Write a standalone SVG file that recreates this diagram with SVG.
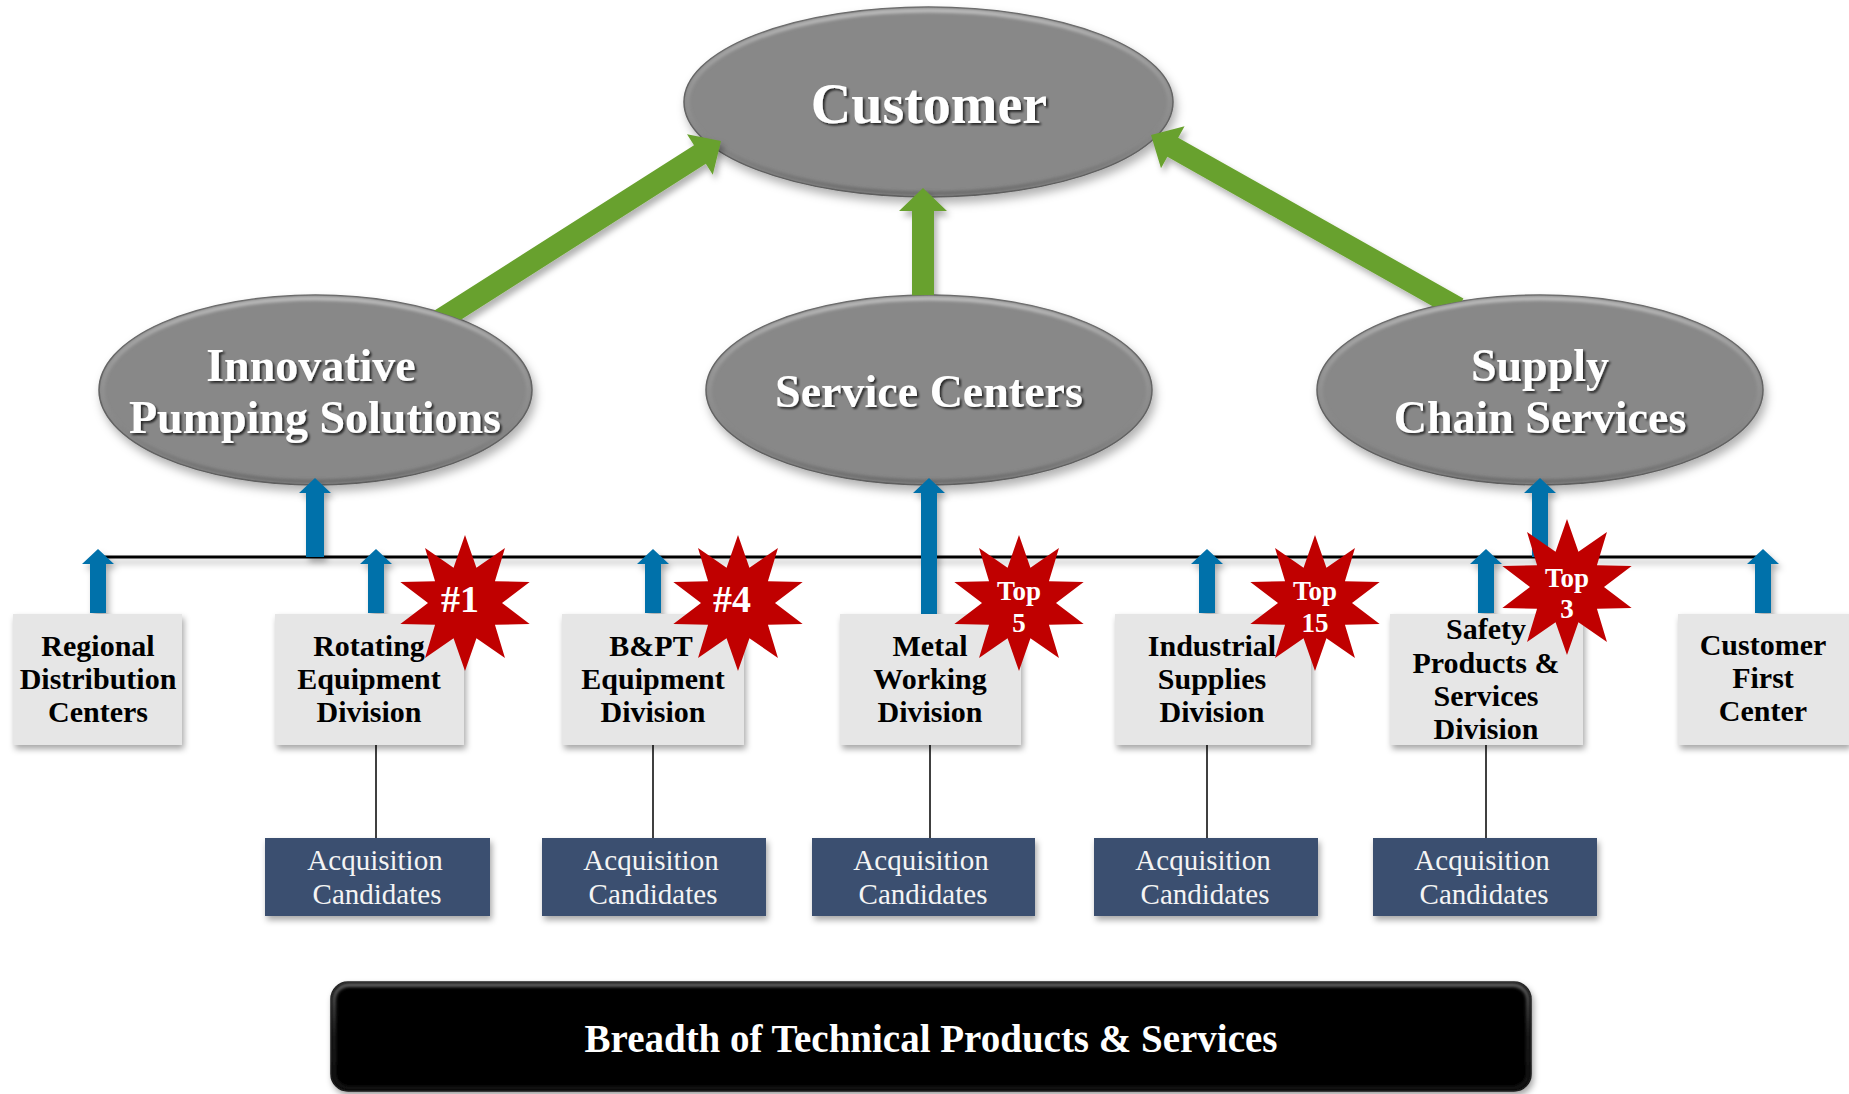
<svg xmlns="http://www.w3.org/2000/svg" xmlns:xlink="http://www.w3.org/1999/xlink" width="1849" height="1094" viewBox="0 0 1849 1094">
<style>
.ell{fill:#888888;stroke:#5e5e5e;stroke-width:1.5}
.bev{fill:none;stroke:url(#bevg);stroke-width:4}
.et{font-family:"Liberation Serif","Times New Roman",serif;font-weight:bold;fill:#ffffff;text-anchor:middle}
.box{fill:#e6e6e6}
.bt{font-family:"Liberation Serif","Times New Roman",serif;font-weight:bold;font-size:30px;fill:#000;text-anchor:middle}
.acq{fill:#3a506f}
.at{font-family:"Liberation Serif","Times New Roman",serif;font-size:29px;fill:#f4f4f4;text-anchor:middle}
.green{fill:#68a12d}
.blue{fill:#0071aa}
.ln{fill:none;stroke:#000;stroke-width:1.5}
.star{fill:#c00000}
.st{font-family:"Liberation Serif","Times New Roman",serif;font-weight:bold;fill:#fff;text-anchor:middle}
</style>
<defs>
<filter id="sh" x="-10%" y="-10%" width="125%" height="140%"><feDropShadow dx="2" dy="4" stdDeviation="3" flood-color="#000" flood-opacity="0.35"/></filter>
<filter id="esh" x="-10%" y="-10%" width="125%" height="135%"><feDropShadow dx="3" dy="6" stdDeviation="5" flood-color="#000" flood-opacity="0.3"/></filter>
<filter id="ash" filterUnits="userSpaceOnUse" x="0" y="0" width="1849" height="1094"><feDropShadow dx="3" dy="5" stdDeviation="3" flood-color="#000" flood-opacity="0.3"/></filter>
<filter id="ts" x="-5%" y="-20%" width="115%" height="150%"><feDropShadow dx="2" dy="2" stdDeviation="1.2" flood-color="#000" flood-opacity="0.7"/></filter>
<filter id="blur"><feGaussianBlur stdDeviation="1.5"/></filter>
<linearGradient id="bevg" x1="0" y1="0" x2="0" y2="1">
<stop offset="0" stop-color="#c4c4c4" stop-opacity="0.9"/>
<stop offset="0.5" stop-color="#a0a0a0" stop-opacity="0.4"/>
<stop offset="1" stop-color="#5a5a5a" stop-opacity="0.6"/>
</linearGradient>
<linearGradient id="barbev" x1="0" y1="0" x2="0" y2="1">
<stop offset="0" stop-color="#6a6a6a" stop-opacity="0.9"/>
<stop offset="0.5" stop-color="#3a3a3a" stop-opacity="0.5"/>
<stop offset="1" stop-color="#202020" stop-opacity="0.6"/>
</linearGradient>
<clipPath id="outside">
<path clip-rule="evenodd" d="M0 0H1849V1094H0Z M99 390a216.5 95 0 1 0 433 0a216.5 95 0 1 0 -433 0Z M706 390a223 95 0 1 0 446 0a223 95 0 1 0 -446 0Z M1317 390a223 95 0 1 0 446 0a223 95 0 1 0 -446 0Z"/>
</clipPath>
<polygon id="starp" points="0,-68 11.43,-35.19 39.97,-55.01 29.93,-21.75 64.67,-21.01 37,0 64.67,21.01 29.93,21.75 39.97,55.01 11.43,35.19 0,68 -11.43,35.19 -39.97,55.01 -29.93,21.75 -64.67,21.01 -37,0 -64.67,-21.01 -29.93,-21.75 -39.97,-55.01 -11.43,-35.19"/>
</defs>
<rect x="0" y="0" width="1849" height="1094" fill="#ffffff"/>

<!-- Ellipse nodes -->
<g id="customer">
<ellipse class="ell" cx="928.5" cy="102" rx="244.5" ry="95" filter="url(#esh)"/>
<ellipse class="bev" cx="928.5" cy="102" rx="241" ry="91.5" filter="url(#blur)"/>
<text class="et" x="929" y="123" font-size="56" filter="url(#ts)">Customer</text>
</g>
<g id="innovative-pumping">
<ellipse class="ell" cx="315.5" cy="390" rx="216.5" ry="95" filter="url(#esh)"/>
<ellipse class="bev" cx="315.5" cy="390" rx="213" ry="91.5" filter="url(#blur)"/>
<text class="et" x="311" y="381" font-size="46" filter="url(#ts)">Innovative</text>
<text class="et" x="315" y="433" font-size="46" filter="url(#ts)">Pumping Solutions</text>
</g>
<g id="service-centers">
<ellipse class="ell" cx="929" cy="390" rx="223" ry="95" filter="url(#esh)"/>
<ellipse class="bev" cx="929" cy="390" rx="219.5" ry="91.5" filter="url(#blur)"/>
<text class="et" x="929" y="407" font-size="46" filter="url(#ts)">Service Centers</text>
</g>
<g id="supply-chain">
<ellipse class="ell" cx="1540" cy="390" rx="223" ry="95" filter="url(#esh)"/>
<ellipse class="bev" cx="1540" cy="390" rx="219.5" ry="91.5" filter="url(#blur)"/>
<text class="et" x="1540" y="381" font-size="46" filter="url(#ts)">Supply</text>
<text class="et" x="1540" y="433" font-size="46" filter="url(#ts)">Chain Services</text>
</g>

<!-- Connectors -->
<g id="connectors">
<g clip-path="url(#outside)">
<g filter="url(#ash)">
<polygon class="green" points="434.09,310.72 694.01,145.15 687.03,134.19 721,141 712.81,174.67 705.83,163.71 445.91,329.28"/>
<polygon class="green" points="912,310 912,211 899,211 923,188 947,211 934,211 934,310"/>
<polygon class="green" points="1463.40,298.42 1178.18,137.69 1184.56,126.36 1151,135 1161.00,168.18 1167.38,156.85 1452.60,317.58"/>
</g>
</g>
<rect x="99" y="555.5" width="1664" height="3" fill="#000" filter="url(#ash)"/>
<g filter="url(#ash)">
<polygon class="blue" points="306,557 306,493 299,493 315,478 331,493 324,493 324,557"/>
<polygon class="blue" points="921,614 921,493 913,493 929,478 945,493 937,493 937,614"/>
<polygon class="blue" points="1532,557 1532,493 1524,493 1540,478 1556,493 1548,493 1548,557"/>
<polygon class="blue" points="90,613 90,564 82,564 98,549 114,564 106,564 106,613"/>
<polygon class="blue" points="368,613 368,564 360,564 376,549 392,564 384,564 384,613"/>
<polygon class="blue" points="645,613 645,564 637,564 653,549 669,564 661,564 661,613"/>
<polygon class="blue" points="1199,613 1199,564 1191,564 1207,549 1223,564 1215,564 1215,613"/>
<polygon class="blue" points="1478,613 1478,564 1470,564 1486,549 1502,564 1494,564 1494,613"/>
<polygon class="blue" points="1755,613 1755,564 1747,564 1763,549 1779,564 1771,564 1771,613"/>
</g>
<line class="ln" x1="376" y1="744" x2="376" y2="838"/>
<line class="ln" x1="653" y1="744" x2="653" y2="838"/>
<line class="ln" x1="930" y1="744" x2="930" y2="838"/>
<line class="ln" x1="1207" y1="744" x2="1207" y2="838"/>
<line class="ln" x1="1486" y1="744" x2="1486" y2="838"/>
</g>

<!-- Division boxes -->
<g id="regional-distribution">
<rect class="box" x="13" y="614" width="169" height="131" filter="url(#sh)"/>
<text class="bt" x="98" y="656">Regional</text>
<text class="bt" x="98" y="689">Distribution</text>
<text class="bt" x="98" y="722">Centers</text>
</g>
<g id="rotating-equipment">
<rect class="box" x="275" y="614" width="189" height="131" filter="url(#sh)"/>
<text class="bt" x="369" y="656">Rotating</text>
<text class="bt" x="369" y="689">Equipment</text>
<text class="bt" x="369" y="722">Division</text>
</g>
<g id="bpt-equipment">
<rect class="box" x="562" y="614" width="182" height="131" filter="url(#sh)"/>
<text class="bt" x="651" y="656">B&amp;PT</text>
<text class="bt" x="653" y="689">Equipment</text>
<text class="bt" x="653" y="722">Division</text>
</g>
<g id="metal-working">
<rect class="box" x="840" y="614" width="181" height="131" filter="url(#sh)"/>
<text class="bt" x="930" y="656">Metal</text>
<text class="bt" x="930" y="689">Working</text>
<text class="bt" x="930" y="722">Division</text>
</g>
<g id="industrial-supplies">
<rect class="box" x="1115" y="614" width="196" height="131" filter="url(#sh)"/>
<text class="bt" x="1212" y="656">Industrial</text>
<text class="bt" x="1212" y="689">Supplies</text>
<text class="bt" x="1212" y="722">Division</text>
</g>
<g id="safety-products">
<rect class="box" x="1390" y="614" width="193" height="131" filter="url(#sh)"/>
<text class="bt" x="1486" y="639">Safety</text>
<text class="bt" x="1486" y="673">Products &amp;</text>
<text class="bt" x="1486" y="706">Services</text>
<text class="bt" x="1486" y="739">Division</text>
</g>
<g id="customer-first">
<rect class="box" x="1678" y="614" width="171" height="131" filter="url(#sh)"/>
<text class="bt" x="1763" y="655">Customer</text>
<text class="bt" x="1763" y="688">First</text>
<text class="bt" x="1763" y="721">Center</text>
</g>

<!-- Acquisition candidates -->
<g id="acq-rotating">
<rect class="acq" x="265" y="838" width="225" height="78" filter="url(#sh)"/>
<text class="at" x="375" y="870">Acquisition</text>
<text class="at" x="377" y="904">Candidates</text>
</g>
<g id="acq-bpt">
<rect class="acq" x="542" y="838" width="224" height="78" filter="url(#sh)"/>
<text class="at" x="651" y="870">Acquisition</text>
<text class="at" x="653" y="904">Candidates</text>
</g>
<g id="acq-metal">
<rect class="acq" x="812" y="838" width="223" height="78" filter="url(#sh)"/>
<text class="at" x="921" y="870">Acquisition</text>
<text class="at" x="923" y="904">Candidates</text>
</g>
<g id="acq-industrial">
<rect class="acq" x="1094" y="838" width="224" height="78" filter="url(#sh)"/>
<text class="at" x="1203" y="870">Acquisition</text>
<text class="at" x="1205" y="904">Candidates</text>
</g>
<g id="acq-safety">
<rect class="acq" x="1373" y="838" width="224" height="78" filter="url(#sh)"/>
<text class="at" x="1482" y="870">Acquisition</text>
<text class="at" x="1484" y="904">Candidates</text>
</g>

<!-- Rank badges -->
<g id="badge-1">
<use xlink:href="#starp" href="#starp" class="star" transform="translate(465,603)"/>
<text class="st" x="460" y="612" font-size="38">#1</text>
</g>
<g id="badge-4">
<use xlink:href="#starp" href="#starp" class="star" transform="translate(738,603)"/>
<text class="st" x="732" y="612" font-size="38">#4</text>
</g>
<g id="badge-top5">
<use xlink:href="#starp" href="#starp" class="star" transform="translate(1019,603)"/>
<text class="st" x="1019" y="600" font-size="27">Top</text>
<text class="st" x="1019" y="632" font-size="27">5</text>
</g>
<g id="badge-top15">
<use xlink:href="#starp" href="#starp" class="star" transform="translate(1315,603)"/>
<text class="st" x="1315" y="600" font-size="27">Top</text>
<text class="st" x="1315" y="632" font-size="27">15</text>
</g>
<g id="badge-top3">
<use xlink:href="#starp" href="#starp" class="star" transform="translate(1567,587)"/>
<text class="st" x="1567" y="587" font-size="27">Top</text>
<text class="st" x="1567" y="618" font-size="27">3</text>
</g>

<!-- Bottom bar -->
<g id="breadth-bar">
<rect x="331" y="982" width="1200" height="109" rx="17" ry="17" fill="#060606" stroke="#1a1a1a" stroke-width="1.5" filter="url(#sh)"/>
<rect x="334" y="985" width="1194" height="103" rx="15" ry="15" fill="none" stroke="url(#barbev)" stroke-width="4" filter="url(#blur)"/>
<text x="931" y="1052" font-family="'Liberation Serif','Times New Roman',serif" font-weight="bold" font-size="39" fill="#ffffff" text-anchor="middle">Breadth of Technical Products &amp; Services</text>
</g>
</svg>
